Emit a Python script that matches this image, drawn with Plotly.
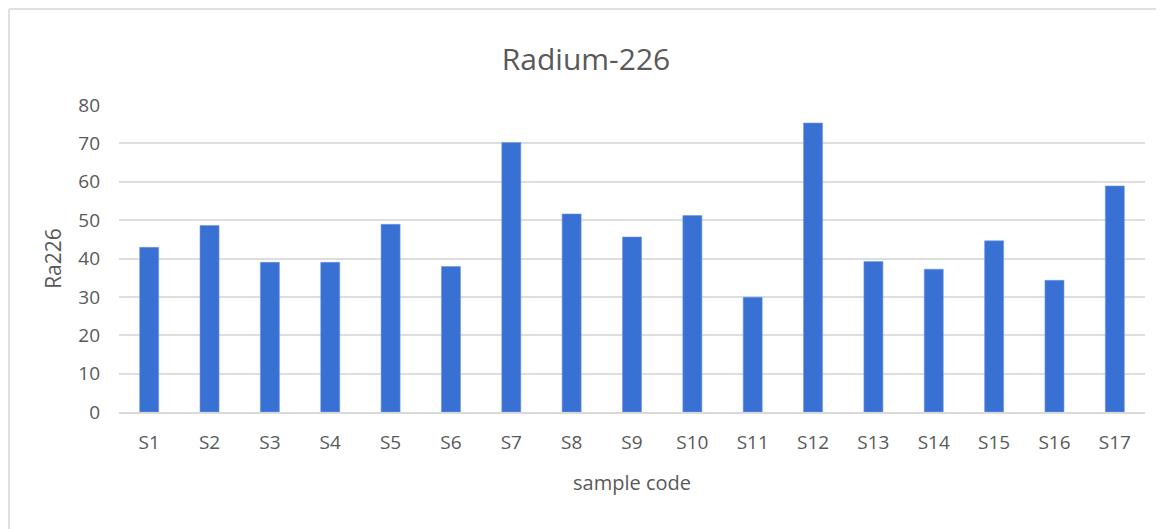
import plotly.graph_objects as go

categories = ["S1", "S2", "S3", "S4", "S5", "S6", "S7", "S8", "S9", "S10",
              "S11", "S12", "S13", "S14", "S15", "S16", "S17"]
ra226 = [42.9, 48.6, 39.0, 39.0, 48.9, 37.9, 70.2, 51.6, 45.6, 51.2,
         29.9, 75.3, 39.2, 37.2, 44.6, 34.3, 58.9]
y_ticks = [0, 10, 20, 30, 40, 50, 60, 70, 80]

FONT = "Open Sans"
GRAY = "#595959"

OFF = 8  # page body margin
W, H = 1164 - OFF, 529 - OFF
L, R, T, B = 119 - OFF, 19, 105 - OFF, 117
pw, ph = W - L - R, H - T - B

fig = go.Figure(go.Bar(
    x=categories, y=ra226,
    marker=dict(color="#3870d3", line=dict(color="#6f97e0", width=0.6)),
    width=0.315,
))


def px_x(p):
    return (p - OFF - L) / pw


def px_y(p):
    return (H - B - (p - OFF)) / ph


fig.update_layout(
    width=W, height=H,
    margin=dict(l=L, r=R, t=T, b=B),
    paper_bgcolor="white", plot_bgcolor="white",
    showlegend=False,
    font=dict(family=FONT, color=GRAY),
    title=dict(text="Radium-226", x=0.5, xanchor="center", y=1 - (59 - OFF) / H, yanchor="middle",
               font=dict(family=FONT, size=30, color=GRAY)),
    xaxis=dict(
        type="category",
        tickfont=dict(size=19, color=GRAY),
        ticklabelstandoff=12,
        title=dict(text="sample code", font=dict(size=20, color=GRAY), standoff=22),
        showgrid=False, showline=True, linecolor="#d9d9d9", linewidth=2,
        ticks="",
    ),
    yaxis=dict(
        range=[0, 80], tickvals=y_ticks,
        tickfont=dict(size=19, color=GRAY),
        ticklabelstandoff=18,
        showgrid=True, gridcolor="#dedede", gridwidth=2,
        zeroline=False, showline=False, ticks="",
        title=dict(text="Ra226", font=dict(size=21, color=GRAY), standoff=10),
    ),
    shapes=[
        dict(type="line", xref="paper", yref="paper",
             x0=px_x(9), x1=px_x(1170), y0=px_y(9), y1=px_y(9),
             line=dict(color="#e0e0e0", width=2)),
        dict(type="line", xref="paper", yref="paper",
             x0=px_x(9), x1=px_x(9), y0=px_y(9), y1=px_y(540),
             line=dict(color="#e0e0e0", width=2)),
    ],
)

fig.write_html("out.html")
